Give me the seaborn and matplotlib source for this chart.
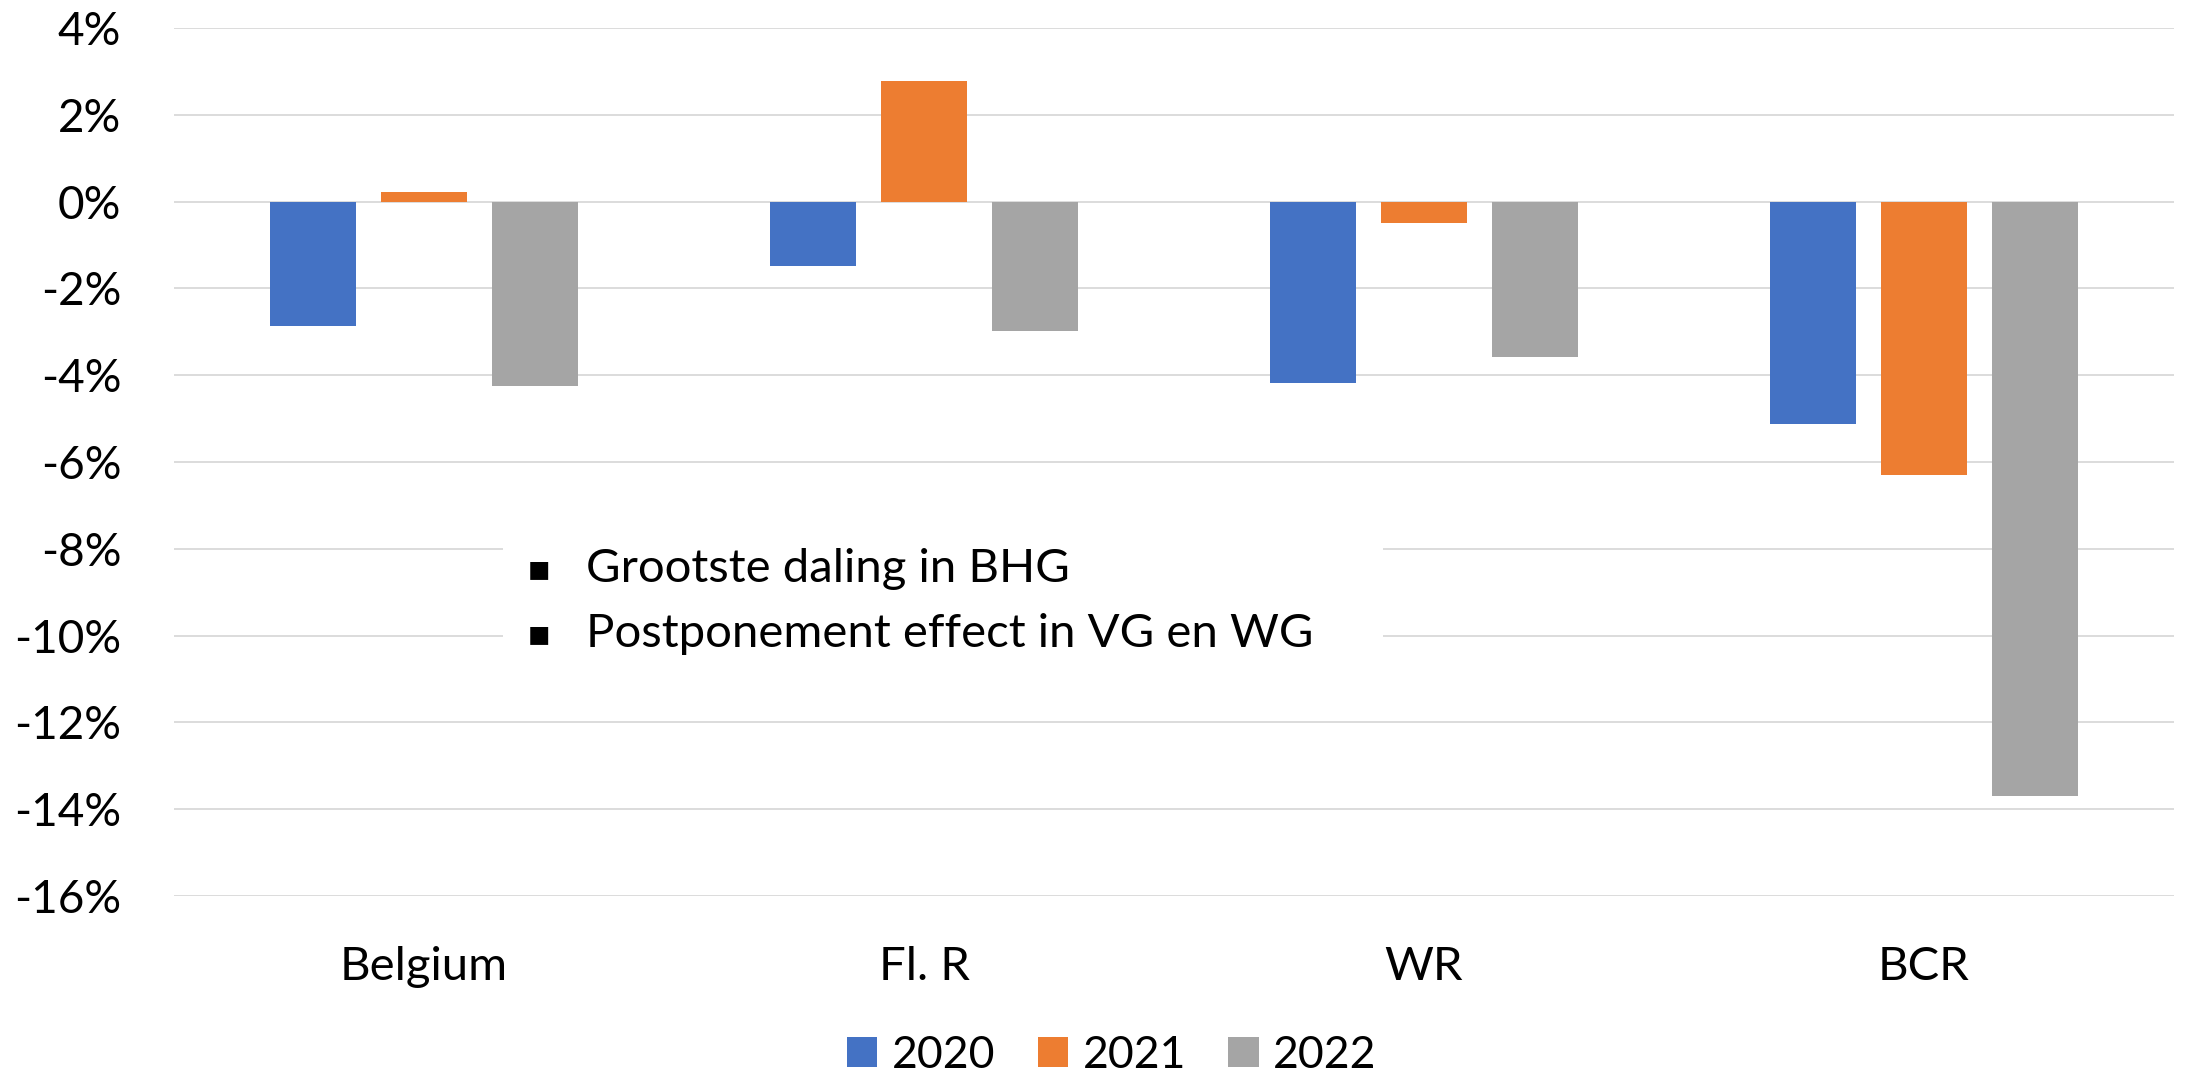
import numpy as np
import pandas as pd
import seaborn as sns
import matplotlib.pyplot as plt
from matplotlib.patches import Patch, Rectangle
from matplotlib.ticker import FuncFormatter

# data (percent change)
regions = ['Belgium', 'Fl. R', 'WR', 'BCR']
years = ['2020', '2021', '2022']
val_2020 = [-2.86, -1.49, -4.17, -5.13]
val_2021 = [0.23, 2.79, -0.49, -6.29]
val_2022 = [-4.24, -2.99, -3.59, -13.70]
colors = ['#4472C4', '#ED7D31', '#A5A5A5']
notes = ['Grootste daling in BHG', 'Postponement effect in VG en WG']

df = pd.DataFrame({
    'region': regions * 3,
    'year': [y for y in years for _ in regions],
    'value': val_2020 + val_2021 + val_2022,
})

sns.set_theme(style='white')
plt.rcParams['font.family'] = ['Lato', 'DejaVu Sans']
plt.rcParams['font.weight'] = 'normal'
plt.rcParams['text.color'] = 'black'

fig = plt.figure(figsize=(21.86, 10.79), dpi=100)
ax = fig.add_axes([174 / 2186, 1 - 896 / 1079, 2000 / 2186, 868 / 1079])

sns.barplot(data=df, x='region', y='value', hue='year', palette=colors,
            saturation=1, width=0.666, gap=0.217, linewidth=0,
            legend=False, ax=ax, zorder=3)

ax.set_ylim(-16, 4)
ax.set_xlim(-0.5, 3.5)
ax.set_yticks(np.arange(-16, 5, 2))
ax.yaxis.set_major_formatter(FuncFormatter(lambda v, p: '%d%%' % v))
ax.yaxis.grid(True, color='#d9d9d9', lw=1.3, zorder=0)
ax.set_axisbelow(True)
for s in ax.spines.values():
    s.set_visible(False)
ax.set_xlabel('')
ax.set_ylabel('')
ax.tick_params(axis='y', length=0, pad=38, labelsize=33, labelcolor='black')
ax.tick_params(axis='x', length=0, pad=36, labelsize=34, labelcolor='black')

# text box with the two remarks
ax.add_patch(Rectangle((0.158, -11.2), 1.76, 4.0, facecolor='white',
                       edgecolor='none', zorder=4))
for i, t in enumerate(notes):
    yy = -8.77 - 1.5 * i
    ax.text(0.206, yy + 0.08, '\u25aa', fontsize=26, color='black', zorder=5,
            va='baseline', family=['DejaVu Sans'], fontweight='normal')
    ax.text(0.324, yy, t, fontsize=34, color='black', zorder=5,
            va='baseline')

handles = [Patch(facecolor=c, edgecolor='none') for c in colors]
fig.legend(handles, years, loc='center', ncol=3, frameon=False,
           bbox_to_anchor=(1112 / 2186, 1 - 1055 / 1079), fontsize=32,
           handlelength=0.68, handleheight=0.68, handletextpad=0.33,
           columnspacing=0.95)

fig.savefig('out.png', dpi=100)
